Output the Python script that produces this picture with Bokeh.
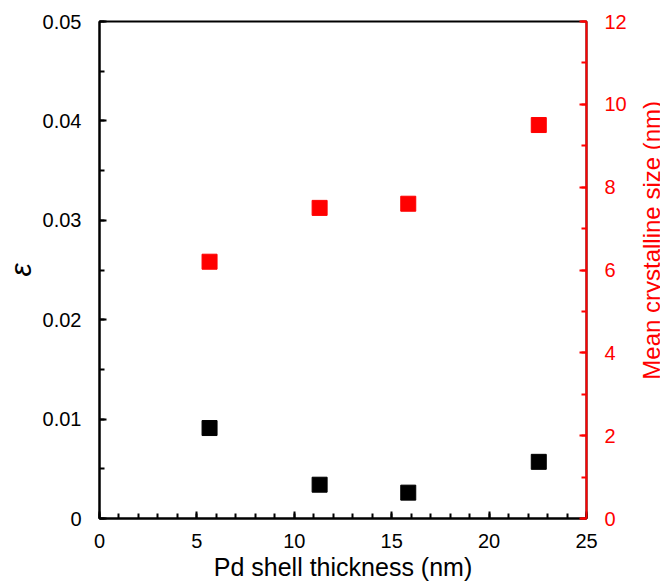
import math
from bokeh.plotting import figure
from bokeh.layouts import row
from bokeh.models import Range1d, LinearAxis, SingleIntervalTicker, CustomJSTickFormatter
from bokeh.core.properties import value
from bokeh.embed import file_html
from bokeh.resources import INLINE

# Data
thickness = [5.65, 11.3, 15.85, 22.55]          # Pd shell thickness (nm)
strain = [0.0091, 0.0034, 0.0026, 0.0057]       # epsilon (left axis)
cryst_size = [6.2, 7.5, 7.6, 9.5]               # mean crystalline size (nm), right axis

x_label = "Pd shell thickness (nm)"
y_label = "ε"
y2_label = "Mean crystalline size (nm)"

FONT = "Liberation Sans"
RED = "#FF0000"

W_MAIN, W_SIDE, H = 632, 28, 586

p = figure(width=W_MAIN, height=H, output_backend="svg", toolbar_location=None,
           x_range=Range1d(0, 25), y_range=Range1d(0, 0.05),
           min_border_left=99, min_border_right=46, min_border_top=21, min_border_bottom=68)
p.extra_y_ranges = {"size": Range1d(0, 12)}
p.grid.visible = False
p.outline_line_color = "black"
p.outline_line_width = 2
p.background_fill_color = "white"
p.border_fill_color = "white"

def style_axis(ax, color):
    ax.axis_line_color = color
    ax.axis_line_width = 2
    ax.major_tick_line_color = color
    ax.minor_tick_line_color = color
    ax.major_tick_line_width = 2
    ax.minor_tick_line_width = 2
    ax.major_tick_in = 7
    ax.major_tick_out = 0
    ax.minor_tick_in = 5
    ax.minor_tick_out = 0
    ax.major_label_text_color = color
    ax.major_label_text_font = FONT
    ax.major_label_text_font_size = "20px"
    ax.axis_label_text_color = color
    ax.axis_label_text_font = FONT
    ax.axis_label_text_font_size = "25px"
    ax.axis_label_text_font_style = "normal"

# bottom axis
xa = p.xaxis[0]
xa.ticker = SingleIntervalTicker(interval=5, num_minor_ticks=5)
style_axis(xa, "black")
xa.axis_label = x_label
xa.major_label_standoff = 15
xa.axis_label_standoff = 2

# left axis
ya = p.yaxis[0]
ya.ticker = SingleIntervalTicker(interval=0.01, num_minor_ticks=2)
ya.formatter = CustomJSTickFormatter(code="return Math.abs(tick) < 1e-9 ? '0' : tick.toFixed(2);")
style_axis(ya, "black")
ya.axis_label = y_label
ya.axis_label_text_font_style = "italic"
ya.axis_label_text_font_size = "30px"
ya.major_label_standoff = 18
ya.axis_label_standoff = 3

# right axis (its title is drawn in the narrow panel beside the plot)
ra = LinearAxis(y_range_name="size",
                ticker=SingleIntervalTicker(interval=2, num_minor_ticks=2))
style_axis(ra, RED)
ra.major_label_standoff = 18
p.add_layout(ra, "right")

p.scatter(thickness, strain, marker="square", size=15, color="black")
p.scatter(thickness, cryst_size, marker="square", size=15, color=RED, y_range_name="size")

# narrow side panel holding the right-hand axis title, read bottom-to-top
side = figure(width=W_SIDE, height=H, output_backend="svg", toolbar_location=None,
              x_range=Range1d(0, W_SIDE), y_range=Range1d(H, 0),
              x_axis_type=None, y_axis_type=None,
              min_border_left=0, min_border_right=0, min_border_top=0, min_border_bottom=0)
side.grid.visible = False
side.outline_line_color = None
side.background_fill_color = "white"
side.border_fill_color = "white"
side.text(x=[19], y=[258], text=[y2_label], angle=math.pi / 2,
          text_align="center", text_baseline="alphabetic",
          text_font=value(FONT), text_font_size="24px", text_color=RED)

layout = row(p, side, spacing=0)
open("out.html", "w").write(file_html(layout, INLINE))
